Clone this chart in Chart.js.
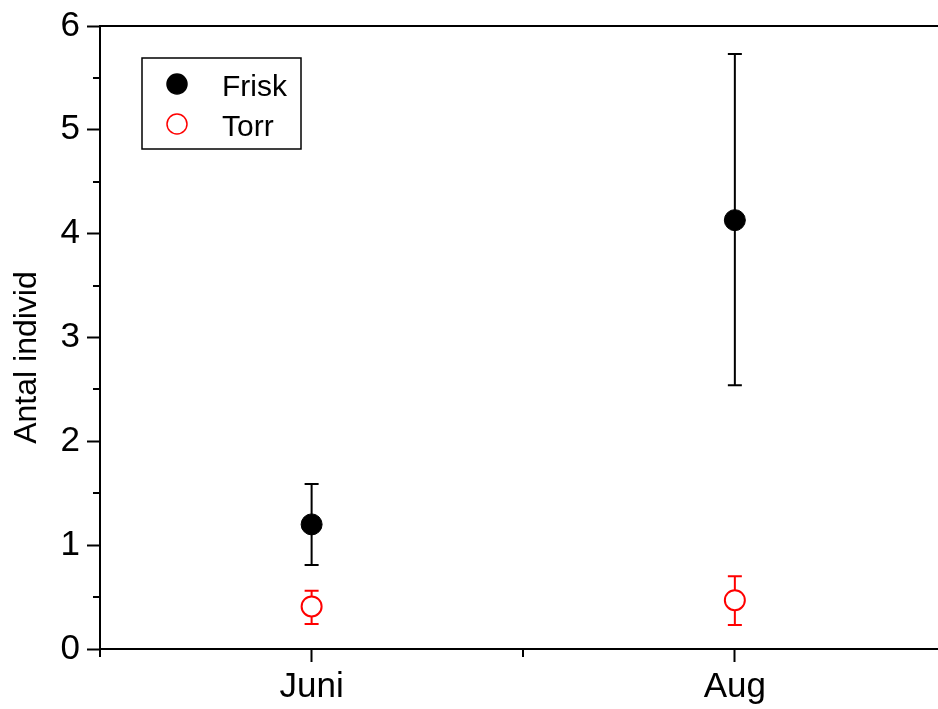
<!DOCTYPE html>
<html>
<head>
<meta charset="utf-8">
<script src="https://cdn.jsdelivr.net/npm/chart.js@4.4.0/dist/chart.umd.min.js"></script>
<style>
  html, body { margin: 0; padding: 0; background: #fff; }
  #wrap { width: 938px; height: 709px; }
</style>
</head>
<body>
<div id="wrap"><canvas id="c" width="938" height="709"></canvas></div>
<script>
// Sampling months and their positions on the x axis
const months = ['Juni', 'Aug'];
const monthPos = [1, 2];

// Mean number of individuals with error-bar limits
const friskMean = [1.20, 4.13];
const friskLow  = [0.81, 2.54];
const friskHigh = [1.59, 5.73];

const torrMean = [0.41, 0.47];
const torrLow  = [0.24, 0.23];
const torrHigh = [0.56, 0.70];

// Axis settings
const yTitle = 'Antal individ';
const yMajorTicks = [0, 1, 2, 3, 4, 5, 6];
const yMinorTicks = [0.5, 1.5, 2.5, 3.5, 4.5, 5.5];
const xMinorTicks = [0.5, 1.5];

const FONT = '"Liberation Sans", Arial, sans-serif';

// Vertical error bars with caps, drawn beneath the markers
const errorBars = {
  id: 'errorBars',
  beforeDatasetsDraw(chart) {
    const { ctx, scales: { x, y } } = chart;
    chart.data.datasets.forEach(ds => {
      ctx.save();
      ctx.strokeStyle = ds.borderColor;
      ctx.lineWidth = 2;
      ds.data.forEach((pt, i) => {
        const px = x.getPixelForValue(pt.x);
        const yl = y.getPixelForValue(ds.errLow[i]);
        const yh = y.getPixelForValue(ds.errHigh[i]);
        ctx.beginPath();
        ctx.moveTo(px, yh); ctx.lineTo(px, yl);
        ctx.moveTo(px - 7, yh); ctx.lineTo(px + 7, yh);
        ctx.moveTo(px - 7, yl); ctx.lineTo(px + 7, yl);
        ctx.stroke();
      });
      ctx.restore();
    });
  }
};

// Top frame line, minor ticks, y-axis title and boxed legend
const frameAndLegend = {
  id: 'frameAndLegend',
  afterDraw(chart) {
    const { ctx, chartArea: a, scales: { x, y } } = chart;
    ctx.save();
    ctx.strokeStyle = '#000';
    ctx.lineWidth = 2;
    ctx.beginPath();
    ctx.moveTo(a.left - 1, a.top); ctx.lineTo(a.right, a.top);
    yMinorTicks.forEach(v => {
      const py = Math.round(y.getPixelForValue(v));
      ctx.moveTo(a.left - 7, py); ctx.lineTo(a.left, py);
    });
    xMinorTicks.forEach(v => {
      const px = Math.round(x.getPixelForValue(v));
      ctx.moveTo(px, a.bottom); ctx.lineTo(px, a.bottom + 8);
    });
    ctx.stroke();

    // rotated y-axis title, sitting slightly below the axis midpoint
    ctx.save();
    ctx.translate(27, (a.top + a.bottom) / 2 + 20);
    ctx.rotate(-Math.PI / 2);
    ctx.font = '32px ' + FONT;
    ctx.fillStyle = '#000';
    ctx.textAlign = 'center';
    ctx.textBaseline = 'middle';
    ctx.fillText(yTitle, 0, 0);
    ctx.restore();

    // legend box
    ctx.lineWidth = 1.5;
    ctx.strokeRect(142, 58, 159, 91);
    ctx.font = '30px ' + FONT;
    ctx.textBaseline = 'alphabetic';
    ctx.textAlign = 'left';
    chart.data.datasets.forEach((ds, i) => {
      const cy = 84 + i * 40;
      ctx.beginPath();
      ctx.arc(177, cy, 10, 0, Math.PI * 2);
      ctx.fillStyle = ds.backgroundColor;
      ctx.fill();
      ctx.strokeStyle = ds.borderColor;
      ctx.lineWidth = 1.5;
      ctx.stroke();
      ctx.fillStyle = '#000';
      ctx.fillText(ds.label, 222, cy + 12);
    });
    ctx.restore();
  }
};

new Chart(document.getElementById('c'), {
  type: 'scatter',
  data: {
    datasets: [
      {
        label: 'Frisk',
        data: monthPos.map((p, i) => ({ x: p, y: friskMean[i] })),
        errLow: friskLow,
        errHigh: friskHigh,
        backgroundColor: '#000000',
        borderColor: '#000000',
        borderWidth: 1,
        pointRadius: 10.5,
        pointHoverRadius: 10.5
      },
      {
        label: 'Torr',
        data: monthPos.map((p, i) => ({ x: p, y: torrMean[i] })),
        errLow: torrLow,
        errHigh: torrHigh,
        backgroundColor: '#ffffff',
        borderColor: '#ff0000',
        borderWidth: 2,
        pointRadius: 10,
        pointHoverRadius: 10
      }
    ]
  },
  options: {
    responsive: false,
    animation: false,
    devicePixelRatio: 1,
    layout: { autoPadding: false, padding: { top: 26, right: 0, left: 0, bottom: 0 } },
    plugins: {
      legend: { display: false },
      tooltip: { enabled: false }
    },
    scales: {
      x: {
        type: 'linear',
        position: 'bottom',
        min: 0.5,
        max: 2.48,
        afterFit(scale) { scale.height = 60; scale.paddingRight = 0; scale.paddingLeft = 0; },
        afterBuildTicks(scale) { scale.ticks = monthPos.map(v => ({ value: v })); },
        grid: { drawOnChartArea: false, drawTicks: true, tickLength: 13, tickWidth: 2, tickColor: '#000' },
        border: { display: true, color: '#000', width: 2 },
        ticks: {
          color: '#000',
          padding: 4,
          maxRotation: 0,
          font: { family: FONT, size: 35 },
          callback: v => { const k = monthPos.indexOf(v); return k >= 0 ? months[k] : ''; }
        }
      },
      y: {
        min: 0,
        max: 6,
        afterFit(scale) { scale.width = 100; scale.paddingTop = 0; scale.paddingBottom = 0; },
        afterBuildTicks(scale) { scale.ticks = yMajorTicks.map(v => ({ value: v })); },
        grid: { drawOnChartArea: false, drawTicks: true, tickLength: 13, tickWidth: 2, tickColor: '#000' },
        border: { display: true, color: '#000', width: 2 },
        ticks: {
          color: '#000',
          padding: 7,
          font: { family: FONT, size: 35 }
        }
      }
    }
  },
  plugins: [errorBars, frameAndLegend]
});
</script>
</body>
</html>
